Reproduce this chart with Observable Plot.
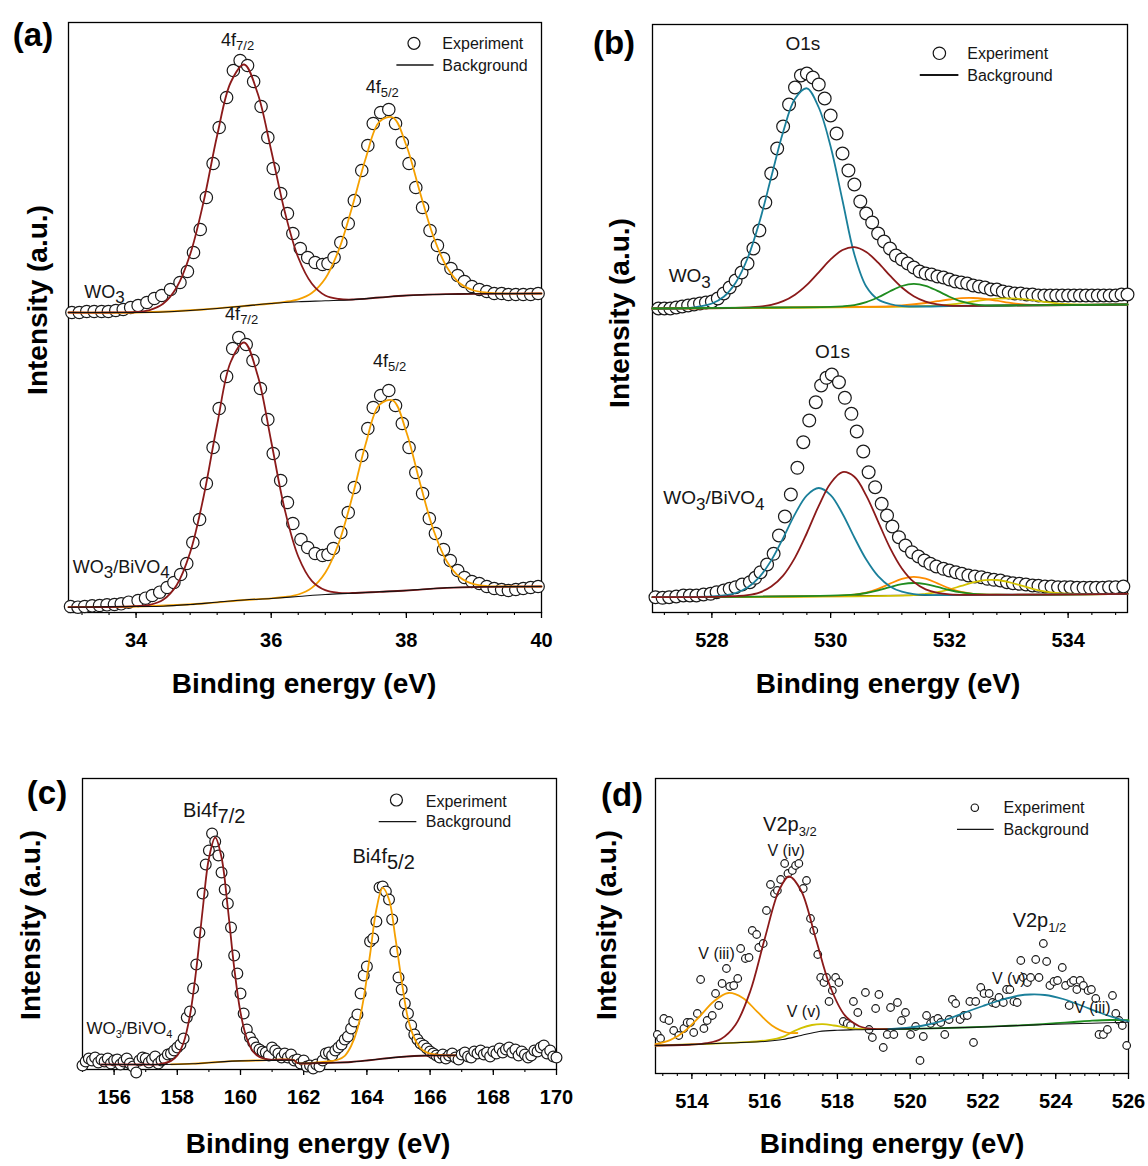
<!DOCTYPE html>
<html><head><meta charset="utf-8">
<script src="https://cdn.jsdelivr.net/npm/d3@7"></script>
<script src="https://cdn.jsdelivr.net/npm/@observablehq/plot@0.6"></script>
<style>
body{margin:0;background:#fff;}
#root{position:relative;width:1148px;height:1166px;overflow:hidden;background:#fff;font-family:"Liberation Sans",Arial,Helvetica,sans-serif;}
.abs{position:absolute;white-space:nowrap;line-height:1;color:#000;}
.letter{font-weight:bold;font-size:33px;transform:translate(-50%,-50%);}
.xt{font-weight:bold;font-size:28px;transform:translate(-50%,-50%);}
.yt{font-weight:bold;font-size:28px;transform:translate(-50%,-50%) rotate(-90deg);}
</style></head><body><div id="root"></div>
<script>
// ---------------- tick labels ----------------
const aTicks = [34, 36, 38, 40];
const bTicks = [528, 530, 532, 534];
const cTicks = [156, 158, 160, 162, 164, 166, 168, 170];
const dTicks = [514, 516, 518, 520, 522, 524, 526];

// ---------------- (a) W 4f ----------------
const aExpWO3 = [[33.05,300],[33.16,300],[33.27,301],[33.38,301],[33.49,301],[33.59,301],[33.70,302],[33.81,303],[33.92,305],[34.03,307],[34.16,310],[34.27,314],[34.38,317],[34.51,323],[34.65,330],[34.76,341],[34.85,360],[34.95,383],[35.04,415],[35.14,449],[35.23,485],[35.34,515],[35.44,542],[35.54,552],[35.65,547],[35.74,531],[35.85,506],[35.95,475],[36.03,444],[36.14,419],[36.24,399],[36.32,379],[36.43,364],[36.54,355],[36.65,350],[36.76,348],[36.84,349],[36.93,355],[37.03,370],[37.14,389],[37.23,412],[37.34,442],[37.43,467],[37.51,489],[37.62,500],[37.74,503],[37.84,489],[37.94,470],[38.04,449],[38.14,425],[38.24,405],[38.35,382],[38.46,367],[38.55,354],[38.66,344],[38.76,337],[38.86,331],[38.97,326],[39.08,323],[39.19,321],[39.30,319],[39.41,319],[39.51,318],[39.62,318],[39.73,318],[39.84,318],[39.95,319]];
const aExpBi = [[33.03,6],[33.14,5.3],[33.24,6],[33.35,6.7],[33.46,7],[33.57,7.7],[33.68,8],[33.78,8.7],[33.89,10.3],[34.03,12],[34.14,14.3],[34.24,17],[34.35,20.3],[34.46,25],[34.56,30],[34.66,38],[34.75,49],[34.84,70],[34.94,93],[35.04,129],[35.14,165],[35.23,204],[35.34,236],[35.43,264],[35.52,275],[35.63,268],[35.73,252],[35.84,224],[35.95,193],[36.03,159],[36.14,132],[36.24,110],[36.32,89],[36.44,73],[36.54,65],[36.65,59],[36.76,57],[36.84,58],[36.92,64],[37.03,80],[37.14,100],[37.23,125],[37.34,157],[37.43,184],[37.51,205],[37.62,217],[37.74,222],[37.84,207],[37.94,189],[38.04,165],[38.14,140],[38.24,119],[38.34,94],[38.43,79],[38.55,63],[38.65,52],[38.76,42],[38.86,35],[38.97,31],[39.08,29],[39.19,26],[39.30,24],[39.41,23],[39.51,22],[39.62,23],[39.73,24],[39.84,25],[39.95,26]];
const aFitWO3_72 = [[33.0,300],[33.6,300],[34.0,300.5],[34.2,302.4],[34.4,308.7],[34.6,325],[34.8,358],[35.0,411],[35.2,477],[35.4,530],[35.6,548],[35.8,519],[36.0,462],[36.2,401],[36.4,355],[36.6,329],[36.8,317],[37.0,313.5],[37.2,313],[37.6,315],[38.0,317],[38.6,318.3],[39.0,318.7],[40.0,319]];
const aFitWO3_52 = [[33.0,300],[34.0,300],[35.0,303],[35.6,306.5],[36.0,309],[36.2,310.6],[36.4,313.2],[36.6,319.5],[36.8,334],[37.0,362.6],[37.2,406],[37.4,454.5],[37.6,490.6],[37.8,495],[38.0,467],[38.2,420.6],[38.4,376],[38.6,345.3],[38.8,328.7],[39.0,322],[39.2,319.8],[39.4,319],[40.0,319]];
const aBgWO3 = [[33.0,300],[34.0,300],[34.4,300.5],[34.8,302],[35.2,304],[35.6,306.5],[36.0,309],[36.4,310.7],[36.8,311.7],[37.2,312.8],[37.6,315],[38.0,317],[38.4,318],[39.0,318.7],[40.0,319]];
const aFitBi_72 = [[33.0,5.3],[33.6,5.5],[34.0,6.3],[34.2,7.6],[34.4,12.7],[34.6,27.3],[34.8,60],[35.0,116],[35.2,188],[35.4,250.5],[35.6,270],[35.8,237],[36.0,171],[36.2,103],[36.4,56],[36.6,31.7],[36.8,22.3],[37.0,19.7],[37.2,19.5],[37.6,20.7],[38.0,22],[38.6,24.7],[39.2,25.7],[40.0,26]];
const aFitBi_52 = [[33.0,5.3],[34.0,6],[35.0,9],[35.6,12.5],[36.0,14.2],[36.2,15.5],[36.4,18],[36.6,24.6],[36.8,39.7],[37.0,69.5],[37.2,115.7],[37.4,169],[37.6,207.6],[37.8,212],[38.0,180.5],[38.2,130],[38.4,82.8],[38.6,51],[38.8,34.7],[39.0,28.3],[39.2,26.4],[39.6,26],[40.0,26]];
const aBgBi = [[33.0,5.3],[34.0,6],[34.4,6.3],[34.8,8],[35.2,10.3],[35.6,12.5],[36.0,14],[36.4,16],[36.8,18],[37.2,19.3],[37.6,20.7],[38.0,22],[38.4,24],[38.8,25.2],[39.2,25.7],[40.0,26]];

// ---------------- (b) O 1s ----------------
const bExpWO3 = [[527.1,304],[527.2,304],[527.3,304],[527.4,305],[527.5,306],[527.6,307],[527.7,308],[527.8,309],[527.9,310],[528.0,311],[528.1,314],[528.2,319],[528.3,325],[528.4,332],[528.5,340],[528.6,349],[528.7,364],[528.8,382],[528.9,410],[529.0,439],[529.1,464],[529.2,486],[529.3,508],[529.4,525],[529.5,537],[529.6,539],[529.7,535],[529.8,528],[529.9,514],[530.0,497],[530.1,479],[530.2,459],[530.3,442],[530.4,428],[530.5,411],[530.6,399],[530.7,390],[530.8,379],[530.9,371],[531.0,364],[531.1,357],[531.2,353],[531.3,349],[531.4,345],[531.5,341],[531.6,339],[531.7,338],[531.8,336],[531.9,335],[532.0,333],[532.1,331],[532.2,330],[532.3,329],[532.4,327],[532.5,326],[532.6,325],[532.7,323],[532.8,323],[532.9,321],[533.0,320],[533.1,319],[533.2,319],[533.3,318],[533.4,318],[533.5,317],[533.6,317],[533.7,317],[533.8,317],[533.9,317],[534.0,317],[534.1,317],[534.2,317],[534.3,317],[534.4,317],[534.5,317],[534.6,317],[534.7,317],[534.8,317],[534.9,318],[535.0,318]];
const bExpBi = [[527.05,15.3],[527.17,14.7],[527.28,15.3],[527.40,16],[527.52,17],[527.63,17],[527.74,17],[527.86,18],[527.98,18.7],[528.08,20.3],[528.20,22],[528.30,23.7],[528.40,25.3],[528.51,28],[528.64,30.3],[528.73,34.7],[528.82,40.3],[528.93,48],[529.04,58.7],[529.13,77],[529.23,96],[529.33,118],[529.44,144.7],[529.54,170.3],[529.64,192],[529.75,210.3],[529.84,227],[529.93,234.7],[530.02,238],[530.14,230.3],[530.24,214.7],[530.35,198.7],[530.44,181],[530.55,161],[530.64,140.3],[530.75,125.3],[530.86,108.7],[530.95,97],[531.04,86],[531.15,75.3],[531.26,67],[531.37,60.3],[531.48,56],[531.58,52],[531.68,48.7],[531.78,46],[531.90,43.7],[532.00,42],[532.11,40.3],[532.21,38.7],[532.32,37],[532.43,36],[532.54,35.3],[532.64,33.7],[532.75,32.7],[532.86,32],[532.97,30.3],[533.07,29.3],[533.18,28.7],[533.29,28],[533.40,27],[533.50,26.7],[533.61,26],[533.72,26],[533.83,25.3],[533.94,25.3],[534.04,25.3],[534.15,24.7],[534.26,24.7],[534.37,24.7],[534.47,24.7],[534.58,24.7],[534.69,25.3],[534.80,25.3],[534.93,26]];
const bWO3Teal = [[527.0,304],[527.6,304.3],[527.8,306],[528.0,309],[528.2,315.8],[528.4,329.8],[528.6,354],[528.8,390.2],[529.0,435.4],[529.2,480.6],[529.4,513.8],[529.6,524.2],[529.8,505],[530.0,466],[530.2,412],[530.4,358],[530.6,326],[530.8,313],[531.0,308.5],[531.2,306.5],[531.6,306],[532.0,306.5],[533.0,307],[535.0,308]];
const bWO3Red = [[527.0,304],[528.4,304.6],[528.8,305.8],[529.0,307.6],[529.2,311.3],[529.4,317.8],[529.6,327.6],[529.8,340.2],[530.0,353.1],[530.2,362.5],[530.4,365.4],[530.6,360.5],[530.8,349.8],[531.0,336.8],[531.2,325],[531.4,316.3],[531.6,310.9],[531.8,308.1],[532.0,306.8],[532.4,306.7],[535.0,308]];
const bWO3Green = [[527.0,304],[529.0,305],[530.0,305.6],[530.2,306.2],[530.4,307.4],[530.6,310.3],[530.8,315.2],[531.0,321.2],[531.2,326.5],[531.4,328.7],[531.6,326.7],[531.8,321.6],[532.0,315.8],[532.2,311.1],[532.4,308.3],[532.6,307.2],[533.0,307],[535.0,308]];
const bWO3Orange = [[527.0,304],[530.8,305.9],[531.0,306.2],[531.2,307],[531.6,309.5],[531.8,311.3],[532.0,313],[532.2,314.3],[532.4,314.5],[532.6,313.5],[532.8,311.8],[533.0,309.8],[533.2,308.3],[533.4,307.6],[533.8,307.4],[535.0,308]];
const bWO3Yellow = [[527.0,304],[531.4,305.8],[531.8,306.8],[532.0,307.8],[532.2,309.3],[532.4,311],[532.6,312.6],[532.8,313.8],[533.0,314.2],[533.2,313.6],[533.4,312.3],[533.6,310.6],[533.8,309.2],[534.0,308.3],[534.4,307.8],[535.0,308]];
const bWO3Bg = [[527.0,304],[535.0,308]];
const bBiTeal = [[527.0,15.3],[527.6,15.5],[528.0,16.1],[528.2,17.1],[528.4,19.5],[528.6,25],[528.8,35.4],[529.0,52.1],[529.2,74.4],[529.4,98.4],[529.6,117.2],[529.8,124.5],[530.0,117.4],[530.2,98.8],[530.4,75],[530.6,52.9],[530.8,36.3],[531.0,26.1],[531.2,20.8],[531.4,18.4],[531.6,17.6],[532.0,17.4],[535.0,18.7]];
const bBiRed = [[527.0,15.3],[528.2,15.8],[528.4,16.4],[528.6,17.3],[528.8,19.9],[529.0,25.9],[529.2,36.9],[529.4,54.9],[529.6,79.5],[529.8,106.7],[530.0,129.3],[530.2,140.4],[530.4,135.7],[530.6,116.9],[530.8,90.9],[531.0,64.7],[531.2,44.1],[531.4,30.6],[531.6,23.1],[531.8,19.6],[532.0,18.1],[532.4,17.6],[535.0,18.7]];
const bBiOrange = [[527.0,15.3],[530.2,16.9],[530.4,17.8],[530.6,19.8],[530.8,23.6],[531.0,28.8],[531.2,33.6],[531.4,35.7],[531.6,33.8],[531.8,29.2],[532.0,24.1],[532.2,20.5],[532.4,18.6],[532.8,17.8],[535.0,18.7]];
const bBiGreen = [[527.0,15.3],[530.0,16.8],[530.4,17.9],[530.6,19.5],[530.8,22.1],[531.0,25.4],[531.2,28.3],[531.4,29.5],[531.6,28.4],[531.8,25.6],[532.0,22.5],[532.2,20.1],[532.4,18.7],[532.8,17.8],[535.0,18.7]];
const bBiYellow = [[527.0,15.3],[531.4,17.4],[531.6,18.6],[531.8,20.3],[532.0,23],[532.2,26.6],[532.4,30.1],[532.6,32.4],[532.8,32.5],[533.0,30.4],[533.2,27.1],[533.4,23.7],[533.6,21.1],[533.8,19.5],[534.0,18.8],[535.0,18.7]];
const bBiBg = [[527.0,15.3],[535.0,18.7]];

// ---------------- (c) Bi 4f ----------------
const cExp = [[155.0,4],[155.1,8],[155.2,11],[155.3,9],[155.4,12],[155.5,7],[155.6,10],[155.7,8],[155.8,11],[155.9,6],[156.0,9],[156.1,10],[156.2,5],[156.3,8],[156.4,11],[156.5,6],[156.6,3],[156.7,-3],[156.8,9],[156.9,12],[157.0,11],[157.1,7],[157.2,10],[157.3,13],[157.4,6],[157.5,9],[157.6,11],[157.7,15],[157.8,16],[157.9,19],[158.0,22],[158.1,25],[158.2,31],[158.3,52],[158.4,58],[158.5,81],[158.6,105],[158.7,137],[158.8,176],[158.9,205],[159.0,219],[159.1,236],[159.2,228],[159.3,214],[159.4,197],[159.5,180],[159.6,166],[159.7,142],[159.8,114],[159.9,96],[160.0,76],[160.1,56],[160.2,40],[160.3,32],[160.4,27],[160.5,22],[160.6,20],[160.7,18],[160.8,17],[160.9,14],[161.0,22],[161.1,19],[161.2,16],[161.3,12],[161.4,16],[161.5,12],[161.6,15],[161.7,9],[161.8,10],[161.9,6],[162.0,9],[162.1,3],[162.2,4],[162.3,1],[162.4,5],[162.5,3],[162.6,9],[162.7,16],[162.8,17],[162.9,14],[163.0,19],[163.1,22],[163.2,25],[163.3,30],[163.4,33],[163.5,41],[163.6,48],[163.7,55],[163.8,76],[163.9,94],[164.0,103],[164.1,128],[164.2,131],[164.3,148],[164.4,182],[164.5,183],[164.6,178],[164.7,170],[164.8,150],[164.9,118],[165.0,92],[165.1,80],[165.2,66],[165.3,56],[165.4,44],[165.5,35],[165.6,30],[165.7,26],[165.8,24],[165.9,21],[166.0,18],[166.1,16],[166.2,14],[166.3,12],[166.4,15],[166.5,11],[166.6,14],[166.7,16],[166.8,12],[166.9,10],[167.0,15],[167.1,17],[167.2,13],[167.3,12],[167.4,18],[167.5,16],[167.6,19],[167.7,15],[167.8,17],[167.9,13],[168.0,18],[168.1,16],[168.2,21],[168.3,17],[168.4,20],[168.5,22],[168.6,17],[168.7,20],[168.8,14],[168.9,18],[169.0,15],[169.1,12],[169.2,14],[169.3,19],[169.4,18],[169.5,22],[169.6,24],[169.7,16],[169.8,19],[169.9,13],[170.0,12]];
const cFit72 = [[155.6,5],[156.0,5],[157.0,5],[157.4,5.1],[157.6,6.5],[157.8,8.6],[158.0,14],[158.2,27],[158.4,54],[158.6,100],[158.8,159],[159.0,211],[159.2,232],[159.4,212],[159.6,161],[159.8,102],[160.0,57],[160.2,31],[160.4,18],[160.6,12.5],[160.8,10.5],[161.0,9.7],[161.7,9.2],[161.8,6.5],[162.5,6.5],[163.0,6.8],[163.5,7.5],[164.0,9],[164.5,10.8],[165.0,12.4],[165.5,13.5],[166.0,14],[166.8,14.2]];
const cFit52 = [[157.8,5.2],[158.5,5.8],[159.0,6.8],[159.5,7.9],[160.0,8.6],[160.5,9],[161.7,9.2],[161.8,6.5],[162.6,7.5],[162.9,8.5],[163.1,10],[163.3,13.7],[163.5,23.5],[163.7,40.5],[163.9,71.6],[164.1,115],[164.3,160],[164.5,181.6],[164.7,170],[164.9,132],[165.1,88.5],[165.3,51],[165.5,31.5],[165.7,21.2],[165.9,16.9],[166.1,15.3],[166.5,14.1],[166.8,14.2]];
const cBg1 = [[155.6,5],[158.0,5.2],[158.5,5.8],[159.0,6.8],[159.5,7.9],[160.0,8.6],[160.5,9],[161.7,9.2]];
const cBg2 = [[161.8,6.5],[162.5,6.5],[163.0,6.8],[163.5,7.5],[164.0,9],[164.5,10.8],[165.0,12.4],[165.5,13.5],[166.0,14],[166.8,14.2]];

// ---------------- (d) V 2p ----------------
const dExp = [[513.05,38],[513.14,34],[513.23,54],[513.37,52],[513.5,42],[513.64,37],[513.78,44],[513.87,50],[513.96,50],[514.05,40],[514.15,59],[514.24,93],[514.33,44],[514.42,52],[514.56,57],[514.65,79],[514.74,67],[514.83,89],[514.95,104],[515.04,86],[515.15,87],[515.26,94],[515.34,124],[515.47,114],[515.57,115],[515.66,142],[515.78,138],[515.84,125],[515.96,129],[516.05,162],[516.16,188],[516.27,179],[516.35,182],[516.44,193],[516.55,209],[516.64,199],[516.76,202],[516.85,207],[516.94,209],[517.06,184],[517.15,192],[517.26,154],[517.35,142],[517.46,118],[517.54,95],[517.63,90],[517.7,95],[517.77,71],[517.86,82],[517.95,95],[518.04,90],[518.16,51],[518.27,49],[518.36,47],[518.44,71],[518.56,60],[518.77,80],[518.87,43],[518.96,35],[519.05,64],[519.14,78],[519.26,25],[519.37,38],[519.46,65],[519.55,38],[519.65,70],[519.76,52],[519.87,60],[520.01,38],[520.15,46],[520.27,12],[520.36,36],[520.45,57],[520.56,49],[520.65,52],[520.76,54],[520.84,50],[520.95,38],[521.07,53],[521.16,73],[521.25,69],[521.37,53],[521.48,57],[521.57,57],[521.64,71],[521.74,30],[521.8,71],[521.94,85],[522.03,79],[522.17,79],[522.26,70],[522.35,69],[522.44,75],[522.56,70],[522.65,83],[522.74,83],[522.85,71],[522.94,70],[523.04,112],[523.11,95],[523.22,90],[523.31,95],[523.45,113],[523.54,95],[523.66,129],[523.75,111],[523.84,87],[523.95,91],[524.05,92],[524.18,105],[524.27,87],[524.37,67],[524.42,90],[524.49,92],[524.58,83],[524.67,92],[524.76,87],[524.89,82],[524.98,83],[525.1,74],[525.19,38],[525.31,38],[525.42,43],[525.56,77],[525.65,59],[525.74,52],[525.83,47],[525.95,27]];
const dBg = [[513,27],[514,28],[515,29.5],[516,31],[516.5,33],[517,37],[517.5,41],[518,42.3],[518.5,42.7],[519,43],[520,43.7],[521,44.5],[522,45.5],[523,47],[524,48.3],[525,49.3],[526,50.3]];
const dV3_32 = [[513.0,28.3],[513.4,32.3],[513.8,41.3],[514.2,55.5],[514.6,71],[515.0,79.5],[515.4,74.6],[515.8,60.6],[516.2,47],[516.6,40],[516.9,39.5]];
const dV4_32 = [[513.0,27],[514.0,28],[514.4,29.3],[514.8,33.5],[515.2,47.7],[515.6,80.8],[516.0,133.5],[516.4,182.6],[516.67,196],[517.0,182],[517.4,134.5],[517.8,86],[518.2,57.3],[518.6,46.3],[519.0,43.6],[519.4,43.4],[520.0,43.7]];
const dV5_32 = [[513.0,27],[515.5,30.3],[516.1,32.3],[516.5,35.6],[516.7,39.4],[517.0,44.4],[517.3,47.5],[517.6,48.3],[517.9,47],[518.2,45.1],[518.5,43.8],[519.0,43.3],[519.5,43.4],[520.0,43.7]];
const dV5_12 = [[519.4,43.4],[520.0,45],[520.5,48],[521.0,53],[521.5,60],[522.0,66.5],[522.5,72.5],[523.0,77],[523.3,78],[523.7,77.5],[524.2,73.5],[524.7,67],[525.2,60],[525.6,55],[526.0,51]];
const dV3_12 = [[519.5,43.4],[521.5,45],[522.5,46.3],[523.5,48],[524.0,49.3],[524.5,50.5],[525.0,51.8],[525.5,52.5],[526.0,52.3]];

// ---------------- colours ----------------
const RED = "#8b1a1a", ORANGE = "#f5a000", TEAL = "#1a7f9a", GREEN = "#1f8c1f", YELLOW = "#d2c200", DARK = "#111";
const FONT = '"Liberation Sans", Arial, Helvetica, sans-serif';

const root = document.getElementById("root");

function makePanel(cfg) {
  const M = {l: 10, r: 20, t: 10, b: 40};
  const width = cfg.frame.w + M.l + M.r, height = cfg.frame.h + M.t + M.b;
  const marks = [
    Plot.axisX(cfg.minor, {tickSize: 3, tickFormat: () => "", label: null, strokeWidth: 1.1}),
    Plot.axisX(cfg.major, {tickSize: 6, tickPadding: 14, label: null, strokeWidth: 1.3, tickFormat: d => String(d)}),
    Plot.frame({stroke: "#000", strokeWidth: 1.3})
  ];
  for (const s of cfg.under || []) marks.push(Plot.line(s.data, {x: d => d[0], y: d => d[1], stroke: s.color, strokeWidth: s.w || 1, curve: "linear"}));
  for (const s of cfg.exp) marks.push(Plot.dot(s, {x: d => d[0], y: d => d[1], r: cfg.r, fill: "white", stroke: "#1a1a1a", strokeWidth: 1.2}));
  for (const s of cfg.lines) marks.push(Plot.line(s.data, {x: d => d[0], y: d => d[1], stroke: s.color, strokeWidth: s.w || 1.8, curve: "catmull-rom"}));
  const svg = Plot.plot({
    width, height, marginLeft: M.l, marginRight: M.r, marginTop: M.t, marginBottom: M.b,
    x: {domain: cfg.xDomain}, y: {domain: cfg.yDomain, axis: null},
    style: {fontFamily: FONT, fontSize: "20px", fontWeight: "bold", color: "#000", background: "transparent", overflow: "visible"},
    marks
  });
  svg.style.position = "absolute";
  svg.style.left = (cfg.frame.x - M.l) + "px";
  svg.style.top = (cfg.frame.y - M.t) + "px";
  svg.style.maxWidth = "none";
  root.appendChild(svg);
  const sx = svg.scale("x"), sy = svg.scale("y");
  const g = d3.select(svg).append("g").attr("text-anchor", "start");
  for (const L of cfg.labels) {
    const t = g.append("text").attr("x", sx.apply(L.x)).attr("y", sy.apply(L.y))
      .attr("text-anchor", L.anchor || "start").attr("fill", "#151515")
      .style("font-family", FONT).style("font-size", L.size + "px").style("font-weight", "normal");
    let shift = 0;
    for (const p of L.parts) {
      const ts = t.append("tspan").text(p[0]);
      const want = p[2] || 0;
      if (want !== shift) { ts.attr("dy", want - shift); shift = want; }
      if (p[1]) ts.style("font-size", p[1] + "px");
    }
  }
  const lg = cfg.legend;
  g.append("circle").attr("cx", sx.apply(lg.cx)).attr("cy", sy.apply(lg.cy)).attr("r", lg.r)
    .attr("fill", "white").attr("stroke", "#151515").attr("stroke-width", 1.2);
  g.append("line").attr("x1", sx.apply(lg.lx1)).attr("x2", sx.apply(lg.lx2))
    .attr("y1", sy.apply(lg.ly)).attr("y2", sy.apply(lg.ly)).attr("stroke", "#151515").attr("stroke-width", lg.lw);
  for (const [txt, yv] of [["Experiment", lg.ty1], ["Background", lg.ty2]]) {
    g.append("text").attr("x", sx.apply(lg.tx)).attr("y", sy.apply(yv)).attr("fill", "#151515")
      .attr("text-anchor", "start")
      .style("font-family", FONT).style("font-size", "16px").style("font-weight", "normal").text(txt);
  }
}

// (a)
makePanel({
  frame: {x: 68, y: 22, w: 473, h: 590}, xDomain: [33, 40], yDomain: [0, 590],
  major: aTicks, minor: d3.range(33.2, 40, 0.4), r: 6.2,
  exp: [aExpWO3, aExpBi],
  lines: [
    {data: aFitWO3_52, color: ORANGE}, {data: aFitWO3_72, color: RED}, {data: aBgWO3, color: DARK, w: 1.1},
    {data: aFitBi_52, color: ORANGE}, {data: aFitBi_72, color: RED}, {data: aBgBi, color: DARK, w: 1.1}
  ],
  labels: [
    {x: 35.51, y: 566, anchor: "middle", size: 18, parts: [["4f"], ["7/2", 13, 4]]},
    {x: 37.65, y: 519, anchor: "middle", size: 18, parts: [["4f"], ["5/2", 13, 4]]},
    {x: 33.24, y: 314, size: 18, parts: [["WO"], ["3", 17, 5]]},
    {x: 35.57, y: 292, anchor: "middle", size: 18, parts: [["4f"], ["7/2", 13, 4]]},
    {x: 37.76, y: 245, anchor: "middle", size: 18, parts: [["4f"], ["5/2", 13, 4]]},
    {x: 33.07, y: 39, size: 18, parts: [["WO"], ["3", 17, 5], ["/BiVO"], ["4", 17, 5]]}
  ],
  legend: {cx: 38.12, cy: 568.7, r: 6, lx1: 37.86, lx2: 38.41, ly: 547, lw: 1.3, tx: 38.54, ty1: 562.7, ty2: 541.3}
});

// (b)
makePanel({
  frame: {x: 652, y: 24, w: 475, h: 588}, xDomain: [527, 535], yDomain: [0, 588],
  major: bTicks, minor: d3.range(527.2, 535, 0.4), r: 6.4,
  exp: [bExpWO3, bExpBi],
  lines: [
    {data: bWO3Bg, color: DARK, w: 1.1}, {data: bWO3Yellow, color: YELLOW}, {data: bWO3Orange, color: "#ff8c00"},
    {data: bWO3Teal, color: TEAL}, {data: bWO3Red, color: RED}, {data: bWO3Green, color: GREEN},
    {data: bBiBg, color: DARK, w: 1.1}, {data: bBiYellow, color: YELLOW}, {data: bBiOrange, color: "#ff8c00"},
    {data: bBiGreen, color: GREEN}, {data: bBiTeal, color: TEAL}, {data: bBiRed, color: RED}
  ],
  labels: [
    {x: 529.54, y: 562, anchor: "middle", size: 19, parts: [["O1s"]]},
    {x: 530.04, y: 253.7, anchor: "middle", size: 19, parts: [["O1s"]]},
    {x: 527.28, y: 330, size: 19, parts: [["WO"], ["3", 17, 6]]},
    {x: 527.19, y: 108, size: 19, parts: [["WO"], ["3", 17, 6], ["/BiVO"], ["4", 17, 6]]}
  ],
  legend: {cx: 531.84, cy: 558.7, r: 6.2, lx1: 531.51, lx2: 532.16, ly: 537, lw: 2, tx: 532.31, ty1: 552.7, ty2: 531.3}
});

// (c)
makePanel({
  frame: {x: 82, y: 778, w: 474, h: 291}, xDomain: [155, 170], yDomain: [0, 291],
  major: cTicks, minor: d3.range(155, 170, 1), r: 5.4,
  under: [
    {data: cExp.filter(d => d[0] <= 155.8), color: "#6b2b12", w: 1},
    {data: cExp.filter(d => d[0] >= 166.7), color: "#6b2b12", w: 1}
  ],
  exp: [cExp],
  lines: [
    {data: cFit52, color: ORANGE}, {data: cFit72, color: RED},
    {data: cBg1, color: DARK, w: 1.1}, {data: cBg2, color: DARK, w: 1.1}
  ],
  labels: [
    {x: 158.2, y: 252, size: 20, parts: [["Bi4f"], ["7/2", 20, 6]]},
    {x: 163.56, y: 205.7, size: 20, parts: [["Bi4f"], ["5/2", 20, 6]]},
    {x: 155.14, y: 35, size: 17, parts: [["WO"], ["3", 11, 4], ["/BiVO"], ["4", 11, 4]]}
  ],
  legend: {cx: 164.95, cy: 269, r: 6, lx1: 164.39, lx2: 165.58, ly: 247.3, lw: 1.3, tx: 165.88, ty1: 262, ty2: 242}
});

// (d)
makePanel({
  frame: {x: 655, y: 778, w: 473, h: 295}, xDomain: [513, 526], yDomain: [-1, 294],
  major: dTicks, minor: d3.range(513.2, 526, 0.4), r: 3.8,
  exp: [dExp],
  lines: [
    {data: dV5_32, color: YELLOW}, {data: dV3_32, color: ORANGE}, {data: dV4_32, color: RED},
    {data: dV3_12, color: GREEN}, {data: dV5_12, color: TEAL}, {data: dBg, color: DARK, w: 1.1}
  ],
  labels: [
    {x: 515.97, y: 241.3, size: 20, parts: [["V2p"], ["3/2", 13, 5]]},
    {x: 516.09, y: 216, size: 16, parts: [["V (iv)"]]},
    {x: 514.19, y: 112.7, size: 16, parts: [["V (iii)"]]},
    {x: 516.62, y: 55.3, size: 16, parts: [["V (v)"]]},
    {x: 522.83, y: 145.3, size: 20, parts: [["V2p"], ["1/2", 13, 5]]},
    {x: 522.26, y: 88, size: 16, parts: [["V (v)"]]},
    {x: 524.52, y: 58.7, size: 16, parts: [["V (iii)"]]}
  ],
  legend: {cx: 521.79, cy: 264.3, r: 3.7, lx1: 521.3, lx2: 522.31, ly: 242.7, lw: 1.3, tx: 522.58, ty1: 258.7, ty2: 237}
});

// ---------------- HTML text: panel letters & axis titles ----------------
function addText(cls, txt, cx, cy) {
  const d = document.createElement("div");
  d.className = "abs " + cls;
  d.textContent = txt;
  d.style.left = cx + "px";
  d.style.top = cy + "px";
  root.appendChild(d);
}
addText("letter", "(a)", 33, 34);
addText("letter", "(b)", 614, 42);
addText("letter", "(c)", 47, 792);
addText("letter", "(d)", 622, 794);
addText("xt", "Binding energy (eV)", 304, 684);
addText("xt", "Binding energy (eV)", 888, 684);
addText("xt", "Binding energy (eV)", 318, 1144);
addText("xt", "Binding energy (eV)", 892, 1144);
addText("yt", "Intensity (a.u.)", 38, 300);
addText("yt", "Intensity (a.u.)", 620, 313);
addText("yt", "Intensity (a.u.)", 31, 925);
addText("yt", "Intensity (a.u.)", 607, 925);
</script></body></html>
